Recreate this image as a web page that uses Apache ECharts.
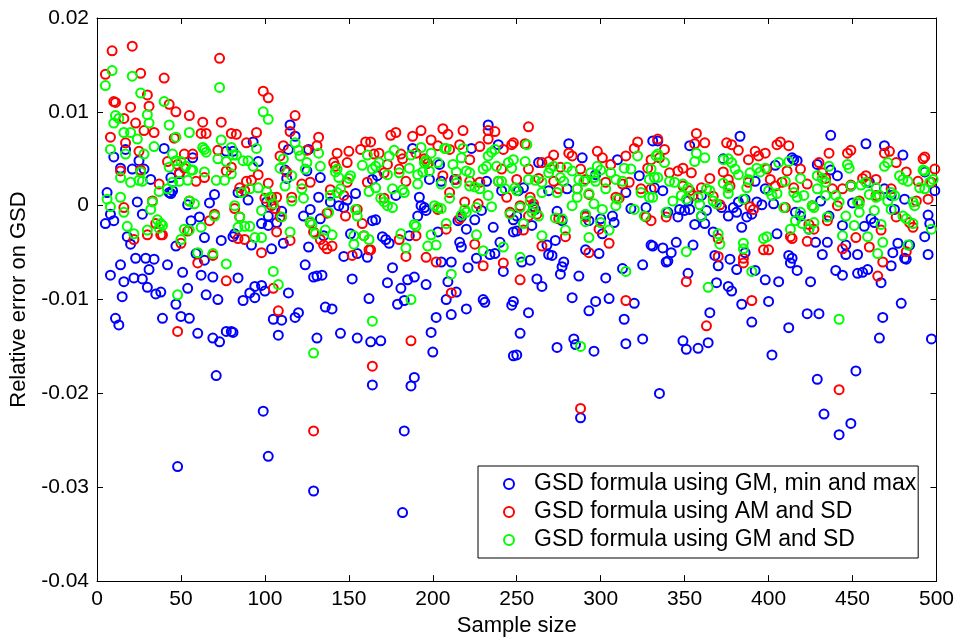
<!DOCTYPE html>
<html>
<head>
<meta charset="utf-8">
<script src="https://cdn.jsdelivr.net/npm/echarts@6/dist/echarts.min.js"></script>
<style>
html,body{margin:0;padding:0;background:#fff;}
#chart{width:957px;height:642px;}
</style>
</head>
<body>
<div id="chart"></div>
<script>
// ---- data (x = sample size, y = relative error) ----
const seriesNames = ['GSD formula using GM, min and max', 'GSD formula using AM and SD', 'GSD formula using GM and SD'];
const xTicks = [0, 50, 100, 150, 200, 250, 300, 350, 400, 450, 500];
const yTicks = [-0.04, -0.03, -0.02, -0.01, 0, 0.01, 0.02];

const blueGMMinMax = [
[17,0.0060],[40,0.0061],[10,0.0052],[25,0.0048],[14,0.0040],[21,0.0039],[28,0.0039],[32,0.0028],[44,0.0030],[44,0.0013],[45,0.0016],[57,0.0051],[77,0.0058],[81,0.0058],[49,0.0034],[6,0.0014],[24,0.0004],[27,-0.0009],[8,-0.0009],[5,-0.0019],[10,-0.0016],[18,-0.0033],[20,-0.0041],[43,0.0014],[54,0.0001],[56,-0.0016],[61,-0.0012],[67,0.0003],[70,0.0012],[64,-0.0034],[74,-0.0037],[81,-0.0033],[47,-0.0043],[59,-0.0051],[64,-0.0058],[14,-0.0063],[23,-0.0056],[29,-0.0056],[34,-0.0057],[31,-0.0068],[42,-0.0063],[8,-0.0074],[16,-0.0081],[22,-0.0077],[27,-0.0078],[51,-0.0071],[62,-0.0074],[69,-0.0076],[30,-0.0087],[35,-0.0094],[38,-0.0092],[54,-0.0088],[15,-0.0097],[65,-0.0095],[72,-0.0100],
[47,-0.0105],[11,-0.0120],[13,-0.0127],[39,-0.0120],[50,-0.0118],[55,-0.0120],[60,-0.0136],[69,-0.0141],[73,-0.0145],[77,-0.0134],[80,-0.0134],[71,-0.0181],[48,-0.0278],
[115,0.0086],[118,0.0074],[93,0.0068],[114,0.0060],[126,0.0060],[96,0.0047],[112,0.0038],[113,0.0029],[125,0.0037],[133,0.0030],[84,0.0014],[90,0.0006],[101,0.0004],[132,0.0009],[139,0.0004],[144,0.0000],[147,-0.0002],[149,0.0006],[154,0.0013],[127,-0.0004],[110,-0.0006],[102,-0.0011],[123,-0.0011],[133,-0.0014],[98,-0.0019],[102,-0.0021],[107,-0.0018],[164,-0.0016],[82,-0.0030],[111,-0.0040],[92,-0.0042],[104,-0.0046],[126,-0.0044],[151,-0.0030],[135,-0.0032],[155,-0.0051],[161,-0.0055],[147,-0.0054],[124,-0.0063],[129,-0.0076],[131,-0.0075],[134,-0.0074],[152,-0.0078],[84,-0.0077],[94,-0.0086],[98,-0.0085],[91,-0.0093],[94,-0.0098],[100,-0.0091],[87,-0.0101],[114,-0.0093],[162,-0.0099],
[105,-0.0121],[110,-0.0122],[120,-0.0114],[118,-0.0119],[136,-0.0108],[140,-0.0110],[81,-0.0135],[108,-0.0138],[131,-0.0141],[145,-0.0136],[155,-0.0141],[163,-0.0145],[164,-0.0191],[99,-0.0219],[102,-0.0267],[129,-0.0304],
[233,0.0086],[239,0.0065],[188,0.0061],[223,0.0061],[204,0.0044],[167,0.0032],[164,0.0028],[198,0.0028],[205,0.0026],[213,0.0028],[232,0.0026],[178,0.0011],[241,0.0016],[192,0.0009],[193,0.0000],[195,-0.0002],[196,-0.0005],[191,-0.0011],[229,-0.0005],[166,-0.0015],[215,-0.0016],[217,-0.0012],[225,-0.0015],[220,-0.0025],[236,-0.0023],[248,-0.0028],[186,-0.0032],[170,-0.0033],[172,-0.0036],[174,-0.0040],[203,-0.0028],[216,-0.0039],[217,-0.0044],[240,-0.0039],[237,-0.0051],[234,-0.0052],[226,-0.0056],[205,-0.0060],[211,-0.0060],[176,-0.0066],[221,-0.0066],[242,-0.0070],[185,-0.0079],[189,-0.0076],[173,-0.0082],[196,-0.0084],[209,-0.0081],[181,-0.0088],[208,-0.0100],[214,-0.0092],[179,-0.0105],[183,-0.0101],[230,-0.0100],[231,-0.0103],
[202,-0.0119],[211,-0.0116],[220,-0.0110],[247,-0.0106],[169,-0.0144],[199,-0.0135],[200,-0.0156],[189,-0.0183],[187,-0.0192],[248,-0.0160],[183,-0.0240],[182,-0.0327],
[281,0.0066],[289,0.0051],[263,0.0046],[310,0.0049],[331,0.0069],[297,0.0033],[323,0.0032],[254,0.0019],[251,0.0016],[269,0.0016],[280,0.0018],[315,0.0014],[327,-0.0002],[260,-0.0001],[261,-0.0004],[250,-0.0011],[248,-0.0015],[274,-0.0006],[277,-0.0016],[291,-0.0010],[293,-0.0016],[300,-0.0014],[307,-0.0011],[308,-0.0018],[259,-0.0021],[250,-0.0027],[301,-0.0030],[318,-0.0003],[273,-0.0037],[268,-0.0042],[291,-0.0047],[299,-0.0051],[330,-0.0042],[269,-0.0052],[271,-0.0053],[258,-0.0058],[253,-0.0060],[278,-0.0060],[277,-0.0065],[276,-0.0073],[287,-0.0075],[303,-0.0077],[313,-0.0067],[325,-0.0063],[262,-0.0078],[265,-0.0086],[283,-0.0098],[305,-0.0099],[297,-0.0102],[248,-0.0102],[320,-0.0104],
[257,-0.0114],[293,-0.0112],[314,-0.0121],[252,-0.0136],[250,-0.0159],[274,-0.0151],[284,-0.0142],[285,-0.0148],[296,-0.0155],[315,-0.0147],[325,-0.0142],[288,-0.0226],
[383,0.0074],[334,0.0069],[353,0.0064],[373,0.0050],[404,0.0043],[414,0.0051],[332,0.0019],[337,0.0016],[392,0.0026],[398,0.0018],[352,0.0005],[360,0.0011],[382,0.0004],[386,0.0007],[393,0.0004],[396,0.0001],[403,0.0002],[340,-0.0007],[347,-0.0004],[350,-0.0005],[353,-0.0004],[360,-0.0011],[363,-0.0005],[372,-0.0002],[376,-0.0011],[379,-0.0002],[381,-0.0007],[387,-0.0012],[390,-0.0009],[356,-0.0020],[362,-0.0019],[346,-0.0012],[367,-0.0028],[384,-0.0023],[405,-0.0030],[345,-0.0039],[355,-0.0042],[331,-0.0043],[337,-0.0045],[342,-0.0050],[340,-0.0059],[339,-0.0060],[368,-0.0053],[377,-0.0057],[386,-0.0050],[412,-0.0053],[370,-0.0064],[381,-0.0068],[392,-0.0069],[352,-0.0072],[398,-0.0079],[406,-0.0081],[369,-0.0082],[376,-0.0086],[378,-0.0091],[384,-0.0105],[400,-0.0102],
[365,-0.0114],[390,-0.0124],[412,-0.0130],[349,-0.0144],[351,-0.0153],[358,-0.0152],[364,-0.0146],[402,-0.0159],[335,-0.0200],
[437,0.0075],[458,0.0066],[469,0.0064],[480,0.0054],[415,0.0049],[417,0.0048],[429,0.0044],[437,0.0038],[441,0.0032],[493,0.0036],[499,0.0016],[449,0.0021],[460,0.0025],[469,0.0018],[431,0.0005],[450,0.0003],[473,0.0011],[481,0.0007],[475,-0.0004],[416,-0.0007],[419,-0.0011],[436,-0.0011],[444,-0.0021],[457,-0.0022],[461,-0.0014],[463,-0.0018],[495,-0.0010],[496,-0.0019],[493,-0.0033],[424,-0.0025],[428,-0.0039],[435,-0.0039],[446,-0.0042],[477,-0.0040],[484,-0.0042],[481,-0.0056],[482,-0.0057],[414,-0.0056],[413,-0.0061],[432,-0.0052],[446,-0.0052],[453,-0.0052],[474,-0.0050],[495,-0.0052],[473,-0.0064],[417,-0.0069],[440,-0.0069],[444,-0.0074],[453,-0.0072],[456,-0.0071],[459,-0.0068],[425,-0.0081],[467,-0.0082],[479,-0.0104],
[423,-0.0115],[430,-0.0115],[468,-0.0119],[466,-0.0141],[497,-0.0142],[429,-0.0185],[452,-0.0176],[433,-0.0222],[442,-0.0244],[449,-0.0232]
];

const redAMSD = [
[9,0.0165],[21,0.0170],[5,0.0140],[26,0.0141],[40,0.0136],[73,0.0157],[10,0.0111],[11,0.0110],[20,0.0105],[30,0.0118],[31,0.0106],[43,0.0108],[47,0.0100],[55,0.0096],[63,0.0089],[74,0.0089],[16,0.0093],[23,0.0088],[28,0.0080],[34,0.0078],[8,0.0073],[17,0.0067],[25,0.0058],[46,0.0072],[62,0.0077],[65,0.0077],[80,0.0077],[52,0.0055],[57,0.0055],[72,0.0059],[42,0.0047],[48,0.0044],[52,0.0040],[14,0.0037],[26,0.0038],[37,0.0023],[49,0.0035],[59,0.0026],[64,0.0030],[80,0.0041],[77,0.0037],[33,0.0005],[16,-0.0002],[55,0.0005],[70,-0.0009],[67,-0.0016],[35,-0.0019],[30,-0.0031],[38,-0.0031],[39,-0.0031],[50,-0.0040],[54,-0.0027],[22,-0.0036],[60,-0.0061],[69,-0.0053],[77,-0.0080],[48,-0.0134],
[99,0.0122],[102,0.0115],[118,0.0096],[115,0.0079],[95,0.0078],[83,0.0076],[89,0.0067],[111,0.0064],[132,0.0073],[131,0.0064],[125,0.0059],[143,0.0056],[150,0.0058],[157,0.0060],[160,0.0068],[109,0.0053],[141,0.0046],[142,0.0042],[149,0.0046],[96,0.0033],[92,0.0027],[89,0.0026],[102,0.0024],[113,0.0036],[122,0.0023],[127,0.0025],[139,0.0017],[149,0.0025],[161,0.0025],[85,0.0019],[88,0.0016],[100,0.0008],[104,0.0009],[107,0.0009],[116,0.0009],[147,0.0011],[137,-0.0008],[82,-0.0003],[104,0.0000],[106,-0.0003],[85,-0.0012],[109,-0.0012],[127,-0.0018],[129,-0.0028],[148,-0.0011],[155,-0.0004],[158,-0.0019],[107,-0.0028],[84,-0.0035],[88,-0.0036],[115,-0.0037],[133,-0.0036],[135,-0.0042],[137,-0.0046],[140,-0.0043],[98,-0.0050],[152,-0.0053],[162,-0.0047],[159,-0.0032],[105,-0.0088],
[108,-0.0112],[129,-0.0240],[164,-0.0171],
[175,0.0075],[178,0.0078],[188,0.0074],[193,0.0080],[206,0.0082],[209,0.0076],[218,0.0080],[233,0.0080],[237,0.0079],[233,0.0071],[163,0.0068],[199,0.0070],[165,0.0055],[168,0.0056],[181,0.0055],[182,0.0050],[190,0.0056],[195,0.0050],[203,0.0064],[210,0.0060],[216,0.0065],[228,0.0063],[242,0.0060],[247,0.0065],[173,0.0044],[196,0.0048],[197,0.0045],[222,0.0049],[206,0.0032],[241,0.0039],[171,0.0035],[180,0.0039],[184,0.0026],[214,0.0028],[222,0.0026],[228,0.0025],[239,0.0026],[210,0.0014],[244,0.0009],[171,0.0008],[203,-0.0004],[219,0.0004],[227,0.0002],[246,-0.0007],[216,-0.0014],[208,-0.0025],[190,-0.0032],[180,-0.0036],[163,-0.0047],[184,-0.0054],[196,-0.0055],[202,-0.0060],[225,-0.0041],[230,-0.0064],[242,-0.0061],[211,-0.0093],
[187,-0.0144],
[257,0.0084],[248,0.0067],[255,0.0066],[272,0.0054],[281,0.0056],[283,0.0053],[298,0.0058],[301,0.0051],[315,0.0053],[322,0.0068],[320,0.0061],[257,0.0039],[265,0.0046],[269,0.0047],[276,0.0041],[288,0.0039],[306,0.0044],[328,0.0040],[250,0.0028],[263,0.0029],[272,0.0026],[275,0.0018],[286,0.0018],[291,0.0028],[303,0.0025],[313,0.0023],[317,0.0025],[324,0.0018],[258,0.0009],[260,0.0002],[252,0.0000],[293,0.0012],[309,0.0009],[311,0.0008],[327,-0.0012],[257,-0.0011],[262,-0.0009],[275,-0.0014],[291,-0.0012],[254,-0.0026],[279,-0.0033],[299,-0.0025],[265,-0.0043],[293,-0.0050],[305,-0.0040],[252,-0.0079],[315,-0.0101],
[288,-0.0216],
[357,0.0077],[356,0.0066],[362,0.0067],[334,0.0071],[338,0.0060],[375,0.0067],[378,0.0065],[382,0.0059],[392,0.0058],[398,0.0056],[405,0.0065],[407,0.0068],[412,0.0064],[335,0.0051],[330,0.0049],[354,0.0035],[349,0.0040],[346,0.0037],[341,0.0035],[373,0.0036],[388,0.0049],[394,0.0053],[399,0.0039],[411,0.0037],[365,0.0029],[376,0.0028],[388,0.0025],[330,0.0018],[349,0.0021],[353,0.0016],[355,0.0011],[360,0.0019],[377,0.0021],[401,0.0028],[404,0.0021],[408,0.0025],[367,0.0010],[371,0.0001],[389,-0.0001],[391,-0.0004],[410,-0.0002],[339,-0.0012],[330,-0.0016],[413,-0.0033],[370,-0.0035],[397,-0.0047],[400,-0.0047],[370,-0.0054],[385,-0.0056],[385,-0.0061],[351,-0.0081],[390,-0.0101],
[363,-0.0128],
[436,0.0056],[447,0.0056],[449,0.0059],[469,0.0056],[472,0.0058],[492,0.0050],[493,0.0052],[430,0.0046],[419,0.0039],[476,0.0046],[458,0.0032],[456,0.0029],[464,0.0028],[482,0.0036],[432,0.0035],[434,0.0029],[423,0.0023],[415,0.0019],[438,0.0018],[444,0.0018],[449,0.0022],[473,0.0018],[489,0.0026],[499,0.0039],[497,0.0025],[454,0.0005],[464,0.0011],[488,0.0005],[495,0.0007],[441,0.0000],[426,0.0000],[476,-0.0012],[484,-0.0018],[486,-0.0023],[424,-0.0020],[427,-0.0025],[414,-0.0035],[423,-0.0038],[435,-0.0016],[452,-0.0034],[460,-0.0044],[467,-0.0026],[444,-0.0046],[482,-0.0049],[468,-0.0060],[465,-0.0075],
[442,-0.0196]
];

const greenGMSD = [
[9,0.0144],[5,0.0128],[21,0.0138],[73,0.0126],[26,0.0120],[40,0.0111],[11,0.0096],[10,0.0088],[13,0.0093],[16,0.0078],[20,0.0078],[30,0.0097],[31,0.0088],[43,0.0086],[47,0.0073],[55,0.0078],[24,0.0071],[8,0.0060],[17,0.0055],[34,0.0063],[28,0.0055],[45,0.0055],[63,0.0062],[64,0.0060],[65,0.0057],[74,0.0070],[80,0.0062],[47,0.0048],[50,0.0047],[53,0.0042],[56,0.0038],[43,0.0041],[72,0.0050],[77,0.0047],[14,0.0030],[20,0.0025],[25,0.0027],[27,0.0026],[26,0.0036],[64,0.0036],[71,0.0027],[76,0.0027],[80,0.0034],[54,0.0027],[49,0.0026],[57,0.0038],[45,0.0025],[42,0.0018],[37,0.0015],[6,0.0007],[8,-0.0001],[14,0.0009],[33,0.0004],[32,-0.0004],[55,0.0005],[58,0.0002],[70,-0.0011],[16,-0.0007],[18,-0.0022],[22,-0.0030],[36,-0.0015],[38,-0.0019],[39,-0.0021],[30,-0.0026],[37,-0.0024],[52,-0.0025],[55,-0.0026],[50,-0.0036],[62,-0.0023],[60,-0.0050],[69,-0.0051],[77,-0.0062],[48,-0.0095],
[99,0.0100],[102,0.0092],[81,0.0054],[83,0.0054],[87,0.0048],[90,0.0048],[93,0.0042],[95,0.0061],[86,0.0014],[91,0.0018],[96,0.0019],[109,0.0040],[111,0.0050],[116,0.0032],[118,0.0067],[120,0.0059],[121,0.0053],[125,0.0046],[124,0.0039],[132,0.0056],[133,0.0042],[143,0.0039],[142,0.0036],[144,0.0030],[150,0.0029],[151,0.0032],[161,0.0054],[158,0.0043],[162,0.0015],[145,0.0018],[143,0.0014],[139,0.0011],[112,0.0021],[101,0.0015],[103,0.0009],[105,0.0002],[116,0.0005],[122,0.0018],[123,0.0008],[82,0.0000],[98,-0.0005],[85,-0.0012],[110,-0.0012],[138,-0.0007],[154,-0.0004],[155,-0.0011],[127,-0.0017],[128,-0.0020],[84,-0.0023],[88,-0.0022],[91,-0.0022],[94,-0.0034],[98,-0.0034],[115,-0.0028],[136,-0.0026],[140,-0.0031],[130,-0.0030],[153,-0.0032],[153,-0.0041],[159,-0.0032],[162,-0.0036],[105,-0.0070],[108,-0.0084],
[129,-0.0157],[164,-0.0123],
[193,0.0062],[199,0.0056],[207,0.0061],[208,0.0061],[218,0.0061],[233,0.0053],[235,0.0057],[237,0.0060],[168,0.0046],[166,0.0042],[164,0.0039],[174,0.0053],[177,0.0059],[187,0.0054],[196,0.0048],[195,0.0046],[203,0.0046],[212,0.0044],[217,0.0051],[230,0.0039],[232,0.0042],[238,0.0042],[245,0.0046],[173,0.0033],[180,0.0035],[186,0.0040],[191,0.0033],[194,0.0036],[198,0.0037],[214,0.0036],[220,0.0037],[222,0.0035],[239,0.0026],[241,0.0026],[166,0.0019],[176,0.0018],[182,0.0017],[183,0.0014],[191,0.0023],[205,0.0023],[214,0.0024],[222,0.0021],[225,0.0020],[228,0.0018],[233,0.0011],[243,0.0018],[169,0.0008],[171,0.0004],[173,0.0000],[176,-0.0002],[201,0.0000],[203,-0.0002],[205,-0.0003],[210,0.0008],[219,-0.0004],[217,-0.0010],[220,-0.0007],[226,-0.0002],[235,-0.0001],[246,-0.0009],[189,-0.0020],[190,-0.0022],[208,-0.0019],[181,-0.0030],[199,-0.0031],[226,-0.0031],[184,-0.0045],[197,-0.0043],[202,-0.0042],[230,-0.0048],[242,-0.0044],[211,-0.0073],[187,-0.0100],
[256,0.0065],[248,0.0049],[247,0.0040],[255,0.0047],[270,0.0040],[272,0.0042],[269,0.0035],[280,0.0041],[283,0.0037],[294,0.0035],[298,0.0042],[300,0.0038],[306,0.0035],[314,0.0040],[318,0.0039],[322,0.0053],[329,0.0028],[257,0.0028],[261,0.0027],[265,0.0025],[276,0.0030],[278,0.0026],[287,0.0028],[290,0.0026],[296,0.0030],[297,0.0026],[309,0.0028],[313,0.0026],[249,0.0019],[250,0.0016],[265,0.0014],[274,0.0014],[286,0.0018],[293,0.0013],[303,0.0018],[324,0.0014],[329,0.0009],[310,0.0007],[309,0.0000],[286,0.0009],[258,0.0005],[260,-0.0003],[252,-0.0002],[283,0.0000],[296,0.0002],[301,-0.0004],[320,-0.0004],[326,-0.0011],[259,-0.0007],[263,-0.0011],[273,-0.0013],[277,-0.0014],[291,-0.0009],[291,-0.0017],[300,-0.0018],[279,-0.0026],[254,-0.0019],[305,-0.0026],[265,-0.0032],[293,-0.0034],[252,-0.0055],[315,-0.0070],
[288,-0.0150],
[357,0.0056],[362,0.0051],[356,0.0047],[334,0.0055],[333,0.0053],[338,0.0046],[330,0.0039],[332,0.0030],[334,0.0030],[373,0.0049],[376,0.0050],[378,0.0046],[380,0.0039],[382,0.0033],[389,0.0035],[393,0.0040],[395,0.0036],[398,0.0040],[406,0.0046],[412,0.0047],[410,0.0026],[341,0.0026],[344,0.0025],[349,0.0023],[352,0.0019],[363,0.0018],[365,0.0016],[373,0.0024],[376,0.0019],[387,0.0019],[388,0.0028],[400,0.0016],[402,0.0011],[405,0.0013],[331,0.0009],[348,0.0011],[351,0.0007],[358,0.0009],[359,0.0001],[367,0.0005],[369,0.0002],[376,0.0013],[343,0.0005],[385,0.0007],[409,-0.0002],[339,-0.0007],[360,-0.0011],[413,-0.0025],[370,-0.0030],[371,-0.0041],[399,-0.0033],[397,-0.0035],[385,-0.0040],[385,-0.0046],[351,-0.0049],[390,-0.0070],[364,-0.0087],
[447,0.0044],[448,0.0040],[469,0.0042],[471,0.0046],[436,0.0042],[492,0.0038],[493,0.0037],[478,0.0032],[480,0.0028],[419,0.0029],[429,0.0032],[432,0.0029],[434,0.0025],[449,0.0021],[455,0.0022],[458,0.0025],[460,0.0012],[464,0.0019],[466,0.0011],[475,0.0011],[473,0.0014],[483,0.0026],[490,0.0019],[493,0.0018],[496,0.0025],[498,0.0028],[415,0.0014],[421,0.0011],[417,0.0009],[429,0.0018],[434,0.0011],[440,0.0011],[442,0.0004],[426,0.0000],[427,-0.0002],[454,0.0002],[464,0.0009],[486,0.0004],[487,0.0000],[416,-0.0016],[419,-0.0007],[420,-0.0019],[424,-0.0025],[427,-0.0018],[435,-0.0012],[446,-0.0011],[451,-0.0021],[453,0.0004],[454,-0.0007],[463,-0.0005],[471,0.0005],[473,-0.0004],[480,-0.0011],[482,-0.0014],[486,-0.0019],[497,-0.0025],[467,-0.0020],[444,-0.0032],[459,-0.0033],[468,-0.0039],[465,-0.0051],[483,-0.0042],
[442,-0.0121]
];

const seriesColors = ['#0000ff', '#ff0000', '#00ff00'];
const seriesData = [blueGMMinMax, redAMSD, greenGMSD];

// ---- chart ----
const FONT = 'Liberation Sans, Arial, sans-serif';
const chart = echarts.init(document.getElementById('chart'), null, {renderer: 'canvas'});

function fmtY(v) {
  if (Math.abs(v) < 1e-9) return '0';
  return v.toFixed(2);
}

const axisCommon = {
  axisLine: {show: true, onZero: false, lineStyle: {color: '#000', width: 1}},
  axisTick: {show: true, inside: true, length: 6, lineStyle: {color: '#000', width: 1}},
  splitLine: {show: false}
};

const option = {
  animation: false,
  backgroundColor: '#ffffff',
  grid: {left: 97, top: 18, right: 19, bottom: 54, containLabel: false},
  xAxis: [
    Object.assign({}, axisCommon, {
      type: 'value', position: 'bottom', min: xTicks[0], max: xTicks[xTicks.length - 1], interval: 50,
      axisLabel: {show: true, color: '#000', fontFamily: FONT, fontSize: 21, margin: 8},
      name: 'Sample size', nameLocation: 'middle', nameGap: 28,
      nameTextStyle: {color: '#000', fontFamily: FONT, fontSize: 22}
    }),
    Object.assign({}, axisCommon, {
      type: 'value', position: 'top', min: xTicks[0], max: xTicks[xTicks.length - 1], interval: 50,
      axisLabel: {show: false}
    })
  ],
  yAxis: [
    Object.assign({}, axisCommon, {
      type: 'value', position: 'left', min: yTicks[0], max: yTicks[yTicks.length - 1], interval: 0.01,
      axisLabel: {show: true, color: '#000', fontFamily: FONT, fontSize: 21, margin: 8, formatter: fmtY},
      name: 'Relative error on GSD', nameLocation: 'middle', nameGap: 64, nameRotate: 90,
      nameTextStyle: {color: '#000', fontFamily: FONT, fontSize: 22}
    }),
    Object.assign({}, axisCommon, {
      type: 'value', position: 'right', min: yTicks[0], max: yTicks[yTicks.length - 1], interval: 0.01,
      axisLabel: {show: false}
    })
  ],
  legend: {
    orient: 'vertical',
    left: 478, top: 466,
    padding: [6, 2, 6, 25],
    itemGap: 4,
    itemWidth: 10, itemHeight: 10,
    backgroundColor: '#ffffff',
    borderColor: '#000', borderWidth: 1,
    selectedMode: false,
    textStyle: {color: '#000', fontFamily: FONT, fontSize: 23, lineHeight: 24, padding: [0, 0, 0, 15]},
    data: seriesNames.map((n, i) => ({
      name: n, icon: 'circle',
      itemStyle: {color: 'rgba(0,0,0,0)', borderColor: seriesColors[i], borderWidth: 2}
    }))
  },
  series: seriesNames.map((n, i) => ({
    name: n,
    type: 'scatter',
    xAxisIndex: 0, yAxisIndex: 0,
    symbol: 'circle',
    symbolSize: 9,
    z: 2 + i,
    itemStyle: {color: 'rgba(0,0,0,0)', borderColor: seriesColors[i], borderWidth: 2, opacity: 1},
    emphasis: {disabled: true},
    data: seriesData[i]
  }))
};

chart.setOption(option);
</script>
</body>
</html>
